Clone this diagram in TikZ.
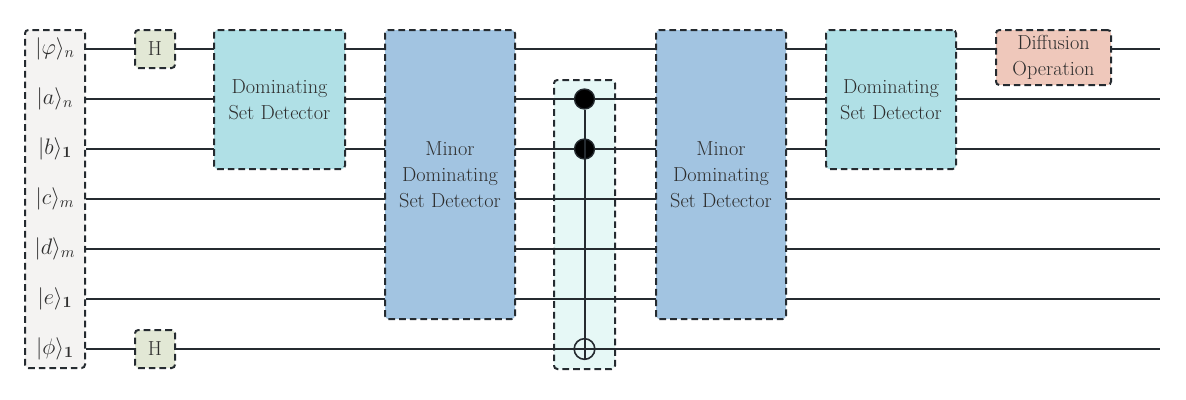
\documentclass[tikz,border=0pt]{standalone}
\usepackage{fix-cm}
\usepackage{amsmath,amssymb}
\usepackage{tikz}
\usetikzlibrary{positioning}

\definecolor{edge}{HTML}{252B30}
\definecolor{txt}{HTML}{2E2E2E}
\definecolor{regbg}{HTML}{F4F3F2}
\definecolor{hbg}{HTML}{E2E8D5}
\definecolor{dsdbg}{HTML}{B0E0E6}
\definecolor{mdsdbg}{HTML}{A2C4E1}
\definecolor{cxbg}{HTML}{E6F8F6}
\definecolor{diffbg}{HTML}{EFC8BB}

\newcommand{\gatefont}{\fontsize{15.2}{19.5}\selectfont}
\newcommand{\ketfont}{\fontsize{16.8}{20}\selectfont}

\begin{document}
\begin{tikzpicture}[x=0.75pt,y=-0.75pt,
              box/.style={draw=edge,line width=1.5pt,dash pattern=on 5pt off 3pt,
                rounded corners=2.5pt,inner sep=0pt,align=center,text=txt,font=\gatefont},
              wire/.style={draw=edge,line width=1.5pt},
              ctrl/.style={circle,draw=edge,fill=black,line width=1pt,inner sep=0pt,minimum size=15pt}]
  \useasboundingbox (0,0) rectangle (1186,400);
  % box of the Toffoli gate lies under the wires
  \node[box,fill=cxbg,minimum width=45.75pt,minimum height=216.75pt] (cx) at (584.5,224.5) {};
  \node[box,fill=regbg,minimum width=45pt,minimum height=253.5pt] (reg) at (55,199) {};
  \foreach \k [count=\i] in {|\varphi\rangle_n, |a\rangle_n, |b\rangle_{\mathbf{1}},
      |c\rangle_m, |d\rangle_m, |e\rangle_{\mathbf{1}}, |\phi\rangle_{\mathbf{1}}} {
    \node[text=txt,font=\ketfont] (q\i) at (55,{49+50*(\i-1)}) {$\k$};
    \coordinate (e\i) at (1160,{49+50*(\i-1)});
    \draw[wire] (reg.east |- q\i) -- (e\i);
  }
  % gates
  \node[box,fill=hbg,minimum width=30pt,minimum height=28.5pt] (h1) at (155,49) {H};
  \node[box,fill=hbg,minimum width=30pt,minimum height=28.5pt] (h2) at (155,349) {H};
  \node[box,fill=dsdbg,minimum width=98.25pt,minimum height=104.25pt] (dsd1) at (279.5,99.5) {Dominating\\Set Detector};
  \node[box,fill=mdsdbg,minimum width=97.5pt,minimum height=216.75pt] (mdsd1) at (450,174.5) {Minor\\Dominating\\Set Detector};
  \node[box,fill=mdsdbg,minimum width=97.5pt,minimum height=216.75pt] (mdsd2) at (721,174.5) {Minor\\Dominating\\Set Detector};
  \node[box,fill=dsdbg,minimum width=97.5pt,minimum height=104.25pt] (dsd2) at (891,99.5) {Dominating\\Set Detector};
  \node[box,fill=diffbg,minimum width=86.25pt,minimum height=41.25pt] (diff) at (1053.5,57.5) {Diffusion\\Operation};
  % controls and target
  \node[ctrl] (c1) at (cx |- q2) {};
  \node[ctrl] (c2) at (cx |- q3) {};
  \node[circle,draw=edge,line width=1.2pt,inner sep=0pt,minimum size=15.5pt] (tgt) at (cx |- q7) {};
  \draw[edge,line width=1.5pt] (c1) -- (tgt.south);
\end{tikzpicture}
\end{document}
